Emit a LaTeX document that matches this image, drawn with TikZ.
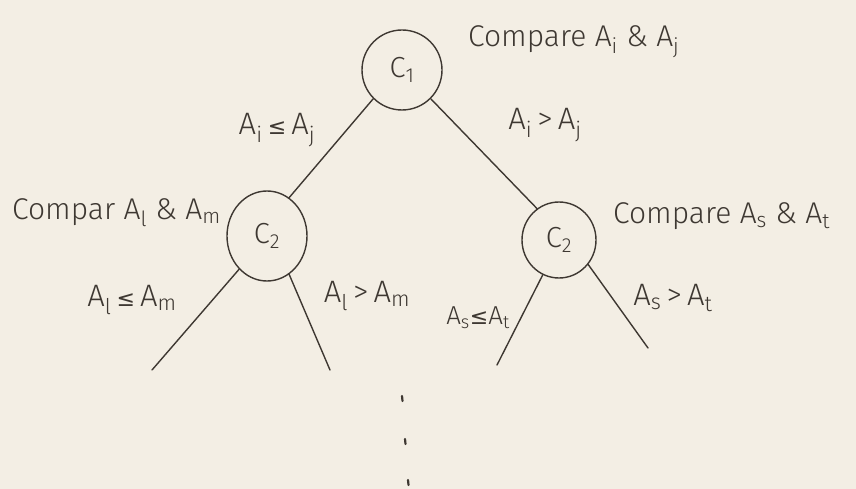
\documentclass[tikz,border=0pt]{standalone}
\usepackage{fontspec}
\setmainfont{Fira Sans Light}[BoldFont=Fira Sans]
\newfontfamily\symfont{DejaVu Sans}
\usetikzlibrary{shapes.geometric}
\definecolor{paper}{RGB}{243,238,228}
\definecolor{ink}{RGB}{62,56,50}
\newcommand{\lessq}{{\symfont\fontsize{22}{22}\selectfont ≤}}
\newcommand{\grt}{>}
\newcommand{\sub}[1]{\textsubscript{#1}}
\begin{document}
\begin{tikzpicture}[x=1pt,y=-1pt,
  ink/.style={draw=ink,line width=1.4pt},
  cmp/.style={ellipse,ink,inner sep=0pt,font=\fontsize{29}{29}\selectfont,text=ink},
  branch/.style={ink,line cap=round},
  note/.style={font=\fontsize{30}{30}\selectfont,text=ink,inner sep=0pt},
  cond/.style={font=\fontsize{31}{31}\selectfont,text=ink,inner sep=0pt},
  dot/.style={ink,line width=2.2pt,line cap=round}]
  \fill[paper] (0,0) rectangle (856,489);
  \useasboundingbox (0,0) rectangle (856,489);

  % comparison nodes
  \node[cmp,minimum width=80,minimum height=80] (c1) at (402,70) {C\sub{1}};
  \node[cmp,minimum width=80,minimum height=90] (c2l) at (267,236) {C\sub{2}};
  \node[cmp,minimum width=74,minimum height=76] (c2r) at (559,240) {C\sub{2}};

  % free ends of the lower branches
  \coordinate (ll) at (152,370);
  \coordinate (lr) at (330,370);
  \coordinate (rl) at (497,365);
  \coordinate (rr) at (648,348);

  % branches
  \draw[branch] (c1.-135) -- (c2l.60);
  \draw[branch] (c1.-45) -- (c2r.125);
  \draw[branch] (c2l.-130) -- (ll);
  \draw[branch] (c2l.-60) -- (lr);
  \draw[branch] (c2r.-115) -- (rl);
  \draw[branch] (c2r.-40) -- (rr);

  % comparison notes
  \node[note,anchor=west] (n1) at (468,42) {Compare A\sub{i} \& A\sub{j}};
  \node[note,anchor=west] (n2) at (12,213) {Compar A\sub{l} \& A\sub{m}};
  \node[note,anchor=west] (n3) at (613,216) {Compare A\sub{s} \& A\sub{t}};

  % branch conditions
  \node[cond] (e1) at (277,130) {A\sub{i}\,\lessq\,A\sub{j}};
  \node[cond] (e2) at (545,125) {A\sub{i}\,\grt\,A\sub{j}};
  \node[cond] (e3) at (132,300) {A\sub{l}\,\lessq\,A\sub{m}};
  \node[cond] (e4) at (367,296) {A\sub{l}\,\grt\,A\sub{m}};
  \node[cond,font=\fontsize{26}{26}\selectfont] (e5) at (478,318) {A\sub{s}\lessq A\sub{t}};
  \node[cond] (e6) at (673,298) {A\sub{s}\,\grt\,A\sub{t}};

  % continuation marks
  \coordinate (d1) at (402,396);
  \coordinate (d2) at (405,439);
  \coordinate (d3) at (408,480);
  \draw[dot] (d1) -- ++(0.5,5);
  \draw[dot] (d2) -- ++(0.5,5);
  \draw[dot] (d3) -- ++(0.5,5);
\end{tikzpicture}
\end{document}
